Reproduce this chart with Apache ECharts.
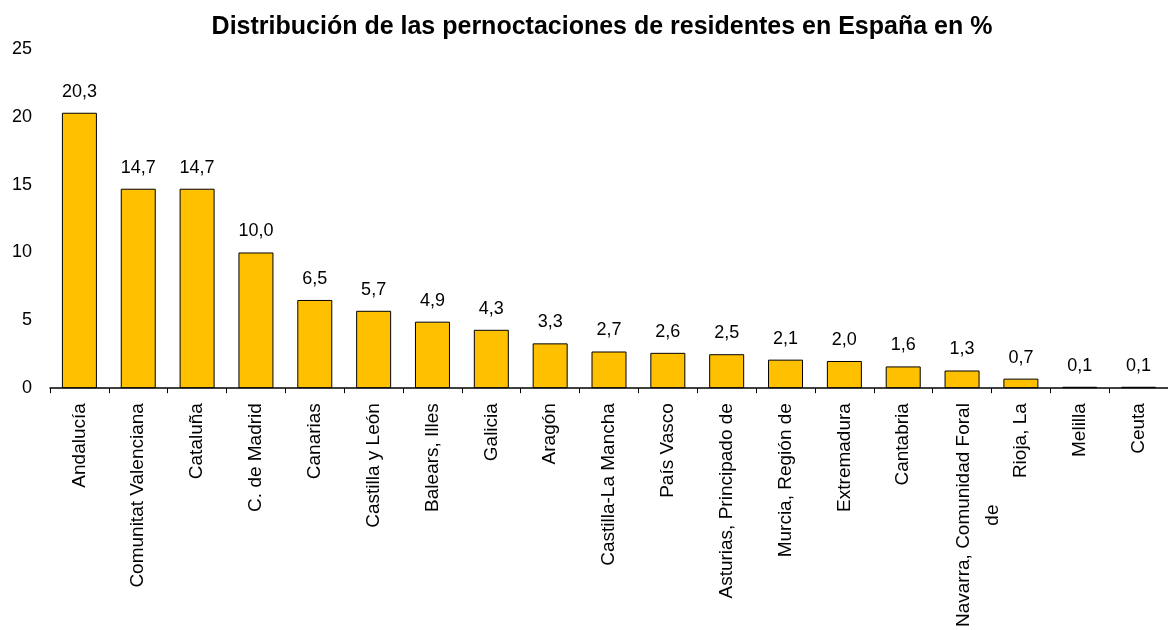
<!DOCTYPE html>
<html><head><meta charset="utf-8">
<script src="https://cdn.jsdelivr.net/npm/echarts@6/dist/echarts.min.js"></script>
<style>html,body{margin:0;padding:0;background:#fff}#c{width:1168px;height:630px}</style>
</head><body><div id="c"></div>
<script>
const categories = ["Andalucía","Comunitat Valenciana","Cataluña","C. de Madrid","Canarias","Castilla y León","Balears, Illes","Galicia","Aragón","Castilla-La Mancha","País Vasco","Asturias, Principado de","Murcia, Región de","Extremadura","Cantabria","Navarra, Comunidad Foral\nde","Rioja, La","Melilla","Ceuta"];
const values = [20.3,14.7,14.7,10.0,6.5,5.7,4.9,4.3,3.3,2.7,2.6,2.5,2.1,2.0,1.6,1.3,0.7,0.1,0.1];
const yTicks = [0,5,10,15,20,25];
const titleText = "Distribución de las pernoctaciones de residentes en España en %";

const FONT = 'Liberation Sans, Arial, sans-serif';
const chart = echarts.init(document.getElementById('c'));
chart.setOption({
  animation:false,
  textStyle:{fontFamily:FONT},
  title:{text:titleText,left:597,top:10,textAlign:'center',
    textStyle:{fontSize:25,fontWeight:'bold',color:'#000',fontFamily:FONT}},
  grid:{left:50,right:-10,top:49,bottom:241,containLabel:false},
  xAxis:{type:'category',data:categories,
    axisLine:{lineStyle:{color:'#000',width:1.5}},
    axisTick:{show:true,length:5,lineStyle:{color:'#000'}},
    axisLabel:{rotate:90,interval:0,fontSize:19,color:'#000',margin:15,align:'right',
      formatter:v=>{const p=v.split('\n');return p.length>1?('{e| }\n{a|'+p[0]+'}\n{b|'+p[1]+'}'):('{a|'+v+'}');},
      rich:{a:{fontSize:19,lineHeight:29,color:'#000',fontFamily:FONT},
            e:{fontSize:19,lineHeight:32,color:'#000',fontFamily:FONT},
            b:{fontSize:19,lineHeight:29,color:'#000',fontFamily:FONT,align:'center'}}}},
  yAxis:{type:'value',min:yTicks[0],max:yTicks[yTicks.length-1],interval:5,
    axisLine:{show:false},axisTick:{show:false},splitLine:{show:false},
    axisLabel:{fontSize:18,color:'#000',margin:18}},
  series:[{type:'bar',data:values,barWidth:35,
    itemStyle:{color:'#FFC000',borderColor:'#000',borderWidth:1},
    label:{show:true,position:'top',distance:12,fontSize:18,color:'#000',
      formatter:p=>p.value.toFixed(1).replace('.',',')}}]
});
</script></body></html>
